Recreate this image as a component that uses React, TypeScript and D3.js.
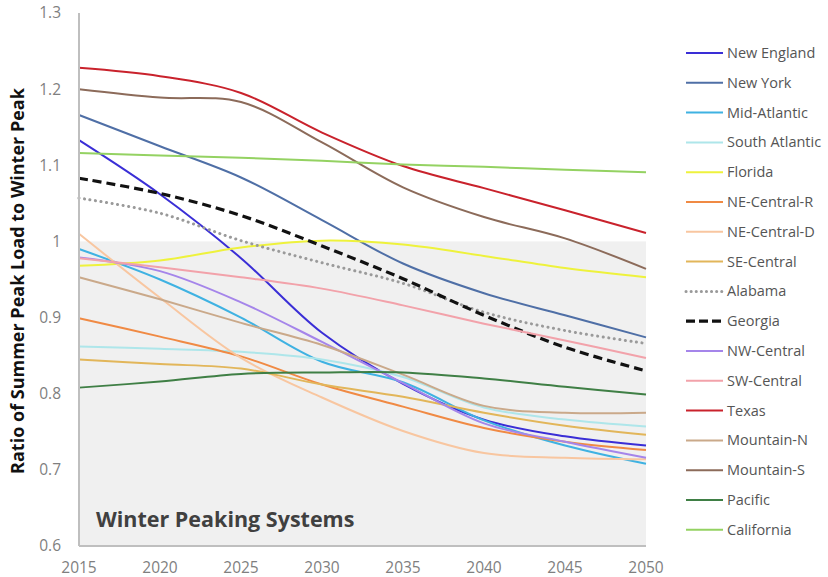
import React, { useEffect } from "react";
import * as d3 from "d3";

// years on the x axis
const years = [2015, 2020, 2025, 2030, 2035, 2040, 2045, 2050];
const yTicks = [0.6, 0.7, 0.8, 0.9, 1, 1.1, 1.2, 1.3];

// ratio of summer peak to winter peak
const newEngland = [1.133, 1.062, 0.978, 0.88, 0.813, 0.766, 0.744, 0.732];
const newYork = [1.166, 1.125, 1.084, 1.028, 0.971, 0.932, 0.903, 0.874];
const midAtlantic = [0.99, 0.95, 0.9, 0.842, 0.815, 0.765, 0.732, 0.708];
const southAtlantic = [0.862, 0.859, 0.855, 0.845, 0.822, 0.782, 0.766, 0.757];
const florida = [0.968, 0.975, 0.992, 1.001, 0.996, 0.981, 0.965, 0.953];
const neCentralR = [0.899, 0.875, 0.849, 0.812, 0.783, 0.755, 0.737, 0.726];
const neCentralD = [1.01, 0.926, 0.847, 0.795, 0.751, 0.722, 0.716, 0.714];
const seCentral = [0.845, 0.839, 0.833, 0.812, 0.796, 0.775, 0.758, 0.746];
const alabama = [1.057, 1.037, 1.001, 0.972, 0.945, 0.907, 0.883, 0.866];
const georgia = [1.083, 1.063, 1.034, 0.994, 0.951, 0.903, 0.861, 0.83];
const nwCentral = [0.979, 0.961, 0.92, 0.868, 0.814, 0.761, 0.737, 0.716];
const swCentral = [0.978, 0.966, 0.953, 0.938, 0.916, 0.892, 0.87, 0.847];
const texas = [1.228, 1.217, 1.195, 1.143, 1.099, 1.07, 1.041, 1.011];
const mountainN = [0.953, 0.924, 0.893, 0.864, 0.825, 0.784, 0.775, 0.775];
const mountainS = [1.2, 1.189, 1.183, 1.13, 1.071, 1.032, 1.004, 0.964];
const pacific = [0.808, 0.816, 0.826, 0.828, 0.828, 0.82, 0.809, 0.799];
const california = [1.116, 1.113, 1.11, 1.106, 1.101, 1.098, 1.094, 1.091];

const seriesNames = [
  "New England", "New York", "Mid-Atlantic", "South Atlantic", "Florida",
  "NE-Central-R", "NE-Central-D", "SE-Central", "Alabama", "Georgia",
  "NW-Central", "SW-Central", "Texas", "Mountain-N", "Mountain-S",
  "Pacific", "California",
];
const seriesValues = [
  newEngland, newYork, midAtlantic, southAtlantic, florida,
  neCentralR, neCentralD, seCentral, alabama, georgia,
  nwCentral, swCentral, texas, mountainN, mountainS,
  pacific, california,
];
const seriesColors = [
  "#3a2ed6", "#4f6fa6", "#3fb2e2", "#aee6ea", "#eef23c",
  "#f08a44", "#f8c6a0", "#e2b65a", "#9a9a9a", "#111111",
  "#a585ea", "#f2a2aa", "#c9222c", "#caa98a", "#8c6b5a",
  "#3f7f45", "#94d262",
];

const width = 828;
const height = 577;
const left = 79;
const right = 646;
const top = 13;
const bottom = 546;
const font = "'Open Sans', sans-serif";

export default function App() {
  useEffect(() => {
    document.body.style.margin = "0";
  }, []);

  const x = d3.scaleLinear().domain([2015, 2050]).range([left, right]);
  const y = d3.scaleLinear().domain([0.6, 1.3]).range([bottom, top]);

  // excel-style smoothed lines
  const line = d3
    .line<number>()
    .x((_, i) => x(years[i]))
    .y((d) => y(d))
    .curve(d3.curveCatmullRom.alpha(0.5));

  const dashFor = (name: string) =>
    name === "Georgia" ? "9,5" : name === "Alabama" ? "0.1,5.5" : undefined;
  const widthFor = (name: string) =>
    name === "Georgia" ? 3.2 : name === "Alabama" ? 3 : 2;

  return (
    <svg width={width} height={height} style={{ display: "block", background: "#fff" }}>
      <rect
        x={left}
        y={y(1)}
        width={right - left}
        height={bottom - y(1)}
        fill="#f0f0f0"
      />

      {seriesNames.map((name, i) => (
        <path
          key={name}
          d={line(seriesValues[i]) ?? ""}
          fill="none"
          stroke={seriesColors[i]}
          strokeWidth={widthFor(name)}
          strokeDasharray={dashFor(name)}
          strokeLinecap={name === "Alabama" ? "round" : "butt"}
        />
      ))}

      {/* axes */}
      <line x1={left} x2={left} y1={top} y2={bottom} stroke="#bfbfbf" strokeWidth={2} />
      <line x1={left} x2={right} y1={bottom} y2={bottom} stroke="#bfbfbf" strokeWidth={2} />

      {yTicks.map((t) => (
        <text
          key={t}
          x={left - 18}
          y={y(t)}
          dy="0.35em"
          textAnchor="end"
          fontFamily={font}
          fontSize={15.5}
          fill="#7f7f7f"
        >
          {d3.format("~g")(t)}
        </text>
      ))}

      {years.map((yr) => (
        <text
          key={yr}
          x={x(yr)}
          y={573}
          textAnchor="middle"
          fontFamily={font}
          fontSize={15.5}
          fill="#7f7f7f"
        >
          {yr}
        </text>
      ))}

      <text
        transform={`translate(24,281) rotate(-90)`}
        textAnchor="middle"
        fontFamily={font}
        fontSize={18}
        fontWeight="bold"
        fill="#111"
      >
        Ratio of Summer Peak Load to Winter Peak
      </text>

      <text x={96} y={527} fontFamily={font} fontSize={21.5} fontWeight="bold" fill="#404040">
        Winter Peaking Systems
      </text>

      {/* legend */}
      {seriesNames.map((name, i) => {
        const ly = 53 + i * 29.8;
        return (
          <g key={name}>
            <line
              x1={686}
              x2={723}
              y1={ly}
              y2={ly}
              stroke={seriesColors[i]}
              strokeWidth={widthFor(name)}
              strokeDasharray={name === "Georgia" ? "9,4" : name === "Alabama" ? "0.1,5" : undefined}
              strokeLinecap={name === "Alabama" ? "round" : "butt"}
            />
            <text
              x={727}
              y={ly}
              dy="0.35em"
              fontFamily={font}
              fontSize={14.5}
              fill="#555"
            >
              {name}
            </text>
          </g>
        );
      })}
    </svg>
  );
}
